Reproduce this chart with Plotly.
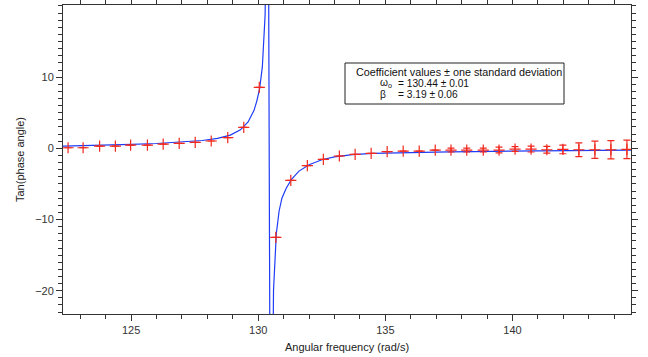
import plotly.graph_objects as go

# Measured data (angular frequency, tan(phase angle), uncertainty)
freq = [122.52, 123.11, 123.76, 124.38, 124.98, 125.64, 126.26, 126.89, 127.52, 128.15, 128.80, 129.43,
        130.04,
        130.69, 131.28, 131.93, 132.56, 133.19, 133.81, 134.44,
        135.07, 135.70, 136.33, 136.96, 137.58, 138.20, 138.85, 139.47,
        140.10, 140.73, 141.35, 141.98, 142.61, 143.24, 143.87, 144.50]
tan_phase = [0.08, 0.08, 0.32, 0.32, 0.46, 0.46, 0.60, 0.70, 0.84, 1.03, 1.49, 2.95,
             8.57,
             -12.5, -4.49, -2.44, -1.54, -1.08, -0.84, -0.70,
             -0.47, -0.38, -0.38, -0.24, -0.24, -0.24, -0.24, -0.24,
             -0.10, -0.10, -0.20, -0.15, -0.20, -0.20, -0.20, -0.15]
tan_err = [0, 0, 0, 0, 0, 0, 0, 0, 0, 0, 0, 0,
           0,
           0, 0, 0, 0, 0, 0, 0,
           0, 0, 0, 0, 0.28, 0.28, 0.28, 0.40,
           0.33, 0.42, 0.47, 0.61, 0.96, 1.22, 1.29, 1.29]

# Fit curve
fit_x = [122.32, 123.0, 124.0, 125.0, 126.0, 127.0, 127.8, 128.4, 128.9, 129.3, 129.6,
         129.83, 129.94, 130.05, 130.16, 130.27, 130.38, 130.49, 130.60, 130.71, 130.82,
         130.93, 131.1, 131.3, 131.6, 132.0, 132.5, 133.0, 133.7, 134.5, 135.5,
         136.5, 137.5, 138.5, 139.5, 140.5, 141.5, 142.5, 143.5, 144.66]
fit_y = [0.30, 0.35, 0.45, 0.55, 0.68, 0.87, 1.10, 1.40, 1.85, 2.6, 3.7,
         5.3, 6.6, 8.3, 11.4, 18.8, 53, -64, -19.9, -12.0, -8.8,
         -7.0, -5.6, -4.4, -3.2, -2.3, -1.6, -1.2, -0.88, -0.72, -0.62,
         -0.55, -0.50, -0.45, -0.42, -0.38, -0.35, -0.30, -0.27, -0.24]

x_ticks = [125, 130, 135, 140]
y_ticks = [-20, -10, 0, 10]

coef_title = "Coefficient values ± one standard deviation"
coef_names = ["ω<sub>o</sub>", "β"]
coef_vals = ["= 130.44 ± 0.01", "= 3.19 ± 0.06"]

RED = "#f0281e"
BLUE = "#1f3cf5"
AX = "#333333"
FONT = "Liberation Sans"

fig = go.Figure()
fig.add_trace(go.Scatter(x=fit_x, y=fit_y, mode="lines",
                         line=dict(color=BLUE, width=1.2), showlegend=False,
                         hoverinfo="skip"))
fig.add_trace(go.Scatter(x=freq, y=tan_phase, mode="markers",
                         marker=dict(symbol="cross-thin", size=8,
                                     line=dict(color=RED, width=1.2), color=RED),
                         error_y=dict(type="data", array=tan_err, visible=True,
                                      color=RED, thickness=1.2, width=3.5),
                         showlegend=False))

axis_common = dict(showline=True, linecolor=AX, linewidth=1, mirror="allticks",
                   ticks="outside", tickcolor=AX, ticklen=6, tickwidth=1,
                   showgrid=False, zeroline=False, automargin=False,
                   tickfont=dict(family=FONT, size=11, color="#333333"),
                   minor=dict(ticks="outside", ticklen=4, tickcolor=AX, dtick=1,
                              showgrid=False))

fig.update_xaxes(range=[122.32, 144.66], tickvals=x_ticks,
                 title=dict(text="Angular frequency (rad/s)",
                            font=dict(family=FONT, size=11, color="#222222"),
                            standoff=8),
                 **axis_common)
fig.update_yaxes(range=[-23.27, 20.13], tickvals=y_ticks,
                 title=dict(text="Tan(phase angle)",
                            font=dict(family=FONT, size=11, color="#222222"),
                            standoff=8),
                 **axis_common)

W, H = 648, 357
L, R, T, B = 63, 17, 5, 43
pw, ph = W - L - R, H - T - B


def px(xp):
    return (xp - L) / pw


def py(yp):
    return (H - B - yp) / ph


fig.add_shape(type="rect", xref="paper", yref="paper",
              x0=px(345), x1=px(564), y0=py(104), y1=py(63),
              line=dict(color="#222222", width=1), fillcolor="white")

fig.add_annotation(xref="paper", yref="paper", x=px(354), y=py(72),
                   text=coef_title, showarrow=False, xanchor="left", yanchor="middle",
                   font=dict(family=FONT, size=10.8, color="#111111"))
for i, (nm, val) in enumerate(zip(coef_names, coef_vals)):
    yy = py(84 + i * 10.5)
    fig.add_annotation(xref="paper", yref="paper", x=px(378), y=yy,
                       text=nm, showarrow=False, xanchor="left", yanchor="middle",
                       font=dict(family=FONT, size=10.2, color="#111111"))
    fig.add_annotation(xref="paper", yref="paper", x=px(396), y=yy,
                       text=val, showarrow=False, xanchor="left", yanchor="middle",
                       font=dict(family=FONT, size=10.2, color="#111111"))

fig.update_layout(width=W, height=H, margin=dict(l=L, r=R, t=T, b=B, autoexpand=False),
                  plot_bgcolor="white", paper_bgcolor="white")

fig.write_html("out.html", config={"displayModeBar": False},
               post_script="document.body.style.margin='0';document.body.style.padding='0';")
